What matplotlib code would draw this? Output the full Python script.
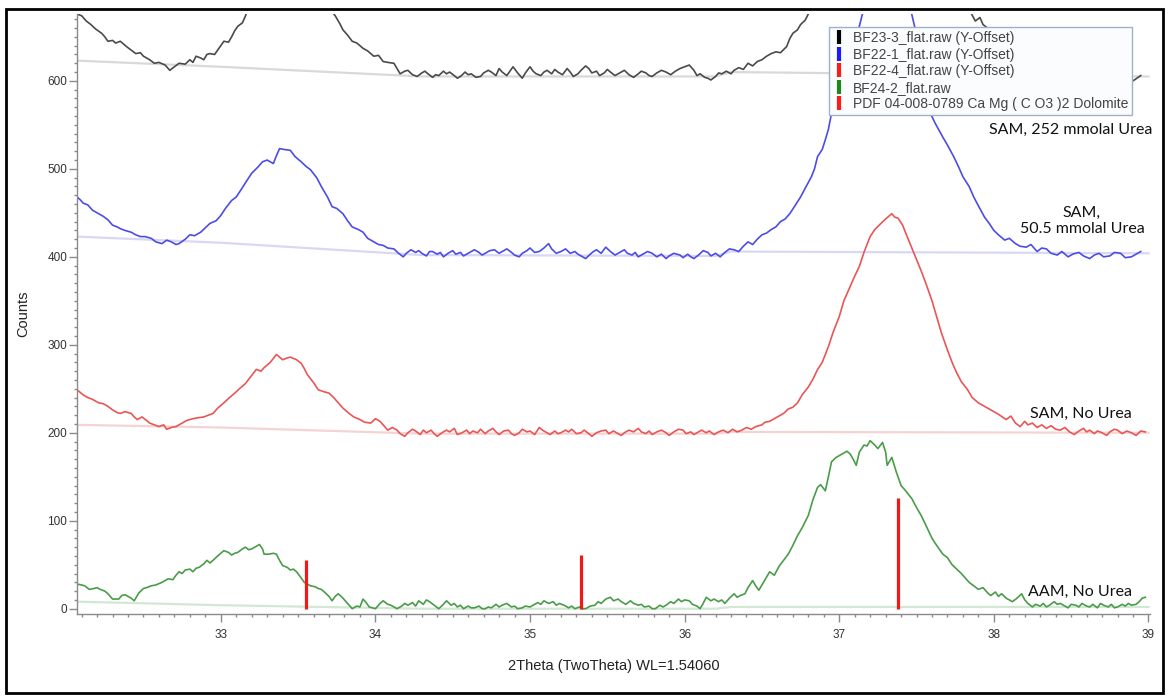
"""XRD overlay: four dolomite-precipitate patterns (Y-offset) with PDF 04-008-0789 stick lines."""
import matplotlib
matplotlib.use("Agg")
import matplotlib.pyplot as plt
from matplotlib.lines import Line2D
from matplotlib.patches import Rectangle
from matplotlib.ticker import MultipleLocator

# ---- data: (2theta [deg], counts incl. Y-offset) ----
GREEN_PTS = [
    (32.07, 28), (32.10, 27), (32.12, 26), (32.15, 22), (32.18, 23), (32.20, 24), (32.22, 22),
    (32.25, 20), (32.27, 17), (32.30, 11), (32.32, 11), (32.34, 11), (32.36, 15), (32.38, 16),
    (32.40, 14), (32.42, 12), (32.44, 9), (32.47, 18), (32.50, 23), (32.52, 24), (32.55, 26),
    (32.58, 27), (32.62, 30), (32.64, 32), (32.66, 34), (32.69, 33), (32.71, 38), (32.73, 42),
    (32.75, 40), (32.77, 44), (32.80, 45), (32.82, 42), (32.84, 46), (32.86, 47), (32.89, 51),
    (32.91, 55), (32.93, 52), (32.95, 55), (32.98, 60), (33.00, 63), (33.02, 66), (33.05, 64),
    (33.07, 61), (33.09, 63), (33.11, 64), (33.14, 68), (33.16, 70), (33.18, 67), (33.20, 68),
    (33.23, 71), (33.25, 73), (33.27, 68), (33.28, 62), (33.31, 62), (33.34, 63), (33.36, 62),
    (33.38, 55), (33.40, 49), (33.43, 47), (33.45, 44), (33.47, 45), (33.49, 42), (33.52, 35),
    (33.54, 30), (33.56, 28), (33.58, 26), (33.61, 25), (33.63, 23), (33.65, 22), (33.67, 19),
    (33.70, 14), (33.72, 9), (33.74, 14), (33.76, 17), (33.79, 12), (33.81, 8), (33.83, 4),
    (33.85, 0), (33.88, 3), (33.90, 2), (33.92, 11), (33.94, 7), (33.96, 2), (33.98, 1),
    (34.00, 0), (34.03, 6), (34.05, 9), (34.08, 5), (34.10, 4), (34.12, 2), (34.14, 0),
    (34.17, 3), (34.19, 6), (34.21, 4), (34.24, 7), (34.26, 3), (34.28, 9), (34.31, 5),
    (34.33, 10), (34.35, 8), (34.38, 4), (34.41, 0), (34.44, 5), (34.46, 9), (34.49, 4),
    (34.51, 6), (34.53, 2), (34.55, 4), (34.57, 0), (34.60, 3), (34.62, 1), (34.64, 1),
    (34.67, 3), (34.69, 0), (34.71, 0), (34.73, 2), (34.75, 1), (34.78, 5), (34.80, 2),
    (34.82, 4), (34.85, 6), (34.88, 2), (34.90, 3), (34.92, 0), (34.95, 1), (34.97, 3),
    (35.00, 2), (35.02, 4), (35.05, 7), (35.07, 5), (35.09, 9), (35.12, 6), (35.15, 8),
    (35.17, 4), (35.19, 6), (35.22, 4), (35.25, 1), (35.27, 3), (35.29, 0), (35.32, 2),
    (35.34, 0), (35.36, 0), (35.39, 3), (35.42, 4), (35.44, 8), (35.46, 6), (35.49, 11),
    (35.52, 13), (35.54, 9), (35.57, 11), (35.59, 8), (35.62, 5), (35.65, 9), (35.67, 6),
    (35.70, 4), (35.72, 5), (35.74, 2), (35.77, 3), (35.79, 0), (35.81, 0), (35.84, 4),
    (35.86, 2), (35.88, 4), (35.91, 8), (35.93, 6), (35.96, 11), (35.98, 8), (36.00, 10),
    (36.03, 9), (36.05, 5), (36.08, 3), (36.10, 0), (36.12, 6), (36.14, 13), (36.17, 9),
    (36.19, 11), (36.22, 8), (36.24, 10), (36.26, 6), (36.29, 12), (36.32, 17), (36.34, 13),
    (36.36, 15), (36.39, 17), (36.41, 24), (36.44, 32), (36.46, 26), (36.48, 21), (36.51, 30),
    (36.55, 42), (36.58, 38), (36.61, 48), (36.64, 55), (36.67, 62), (36.70, 72), (36.73, 83),
    (36.76, 92), (36.80, 106), (36.83, 124), (36.86, 138), (36.88, 141), (36.91, 134),
    (36.93, 150), (36.95, 167), (36.98, 172), (37.02, 176), (37.05, 179), (37.07, 176),
    (37.09, 170), (37.11, 163), (37.13, 178), (37.16, 186), (37.18, 185), (37.20, 191),
    (37.23, 186), (37.25, 182), (37.28, 189), (37.30, 178), (37.31, 163), (37.34, 172),
    (37.37, 155), (37.40, 140), (37.43, 134), (37.47, 125), (37.50, 115), (37.53, 106),
    (37.56, 95), (37.60, 80), (37.63, 72), (37.67, 62), (37.70, 58), (37.73, 50), (37.76, 45),
    (37.79, 40), (37.81, 36), (37.84, 30), (37.87, 26), (37.90, 22), (37.93, 24), (37.96, 18),
    (37.98, 15), (38.01, 19), (38.03, 14), (38.05, 17), (38.08, 12), (38.10, 10), (38.12, 8),
    (38.15, 12), (38.18, 17), (38.20, 10), (38.22, 6), (38.25, 2), (38.27, 5), (38.30, 3),
    (38.32, 6), (38.34, 2), (38.36, 4), (38.39, 8), (38.41, 5), (38.43, 6), (38.46, 3),
    (38.48, 1), (38.50, 5), (38.53, 4), (38.55, 2), (38.57, 6), (38.60, 3), (38.62, 2),
    (38.64, 5), (38.67, 1), (38.69, 6), (38.71, 4), (38.74, 2), (38.76, 5), (38.78, 1),
    (38.80, 2), (38.83, 5), (38.85, 3), (38.87, 6), (38.89, 4), (38.92, 5), (38.94, 8),
    (38.96, 12), (38.98, 13)]

RED_PTS = [
    (32.07, 249), (32.09, 246), (32.11, 243), (32.14, 240), (32.17, 238), (32.21, 234),
    (32.24, 233), (32.27, 230), (32.30, 226), (32.33, 223), (32.35, 222), (32.38, 224),
    (32.42, 222), (32.44, 218), (32.46, 215), (32.49, 218), (32.52, 214), (32.54, 211),
    (32.57, 209), (32.60, 207), (32.63, 209), (32.65, 204), (32.68, 206), (32.71, 207),
    (32.73, 209), (32.75, 211), (32.78, 214), (32.82, 216), (32.85, 217), (32.89, 218),
    (32.92, 220), (32.95, 222), (32.98, 228), (33.02, 234), (33.05, 239), (33.09, 245),
    (33.12, 250), (33.16, 256), (33.19, 263), (33.23, 272), (33.26, 270), (33.28, 274),
    (33.32, 280), (33.36, 289), (33.38, 286), (33.40, 283), (33.43, 285), (33.45, 286),
    (33.49, 283), (33.52, 279), (33.54, 273), (33.56, 266), (33.60, 257), (33.63, 249),
    (33.66, 247), (33.70, 245), (33.73, 240), (33.76, 234), (33.79, 228), (33.83, 222),
    (33.86, 218), (33.90, 215), (33.93, 212), (33.97, 211), (34.00, 216), (34.03, 213),
    (34.06, 207), (34.08, 203), (34.11, 206), (34.14, 203), (34.16, 199), (34.19, 196),
    (34.21, 200), (34.24, 204), (34.26, 202), (34.29, 198), (34.31, 203), (34.33, 200),
    (34.36, 203), (34.38, 199), (34.40, 196), (34.43, 200), (34.46, 203), (34.48, 201),
    (34.51, 205), (34.53, 198), (34.56, 200), (34.59, 203), (34.61, 199), (34.63, 202),
    (34.66, 200), (34.68, 204), (34.71, 199), (34.73, 202), (34.76, 205), (34.78, 201),
    (34.80, 198), (34.83, 202), (34.86, 203), (34.88, 199), (34.90, 197), (34.93, 200),
    (34.95, 204), (34.98, 201), (35.00, 202), (35.03, 198), (35.06, 206), (35.08, 203),
    (35.11, 200), (35.13, 198), (35.16, 202), (35.18, 199), (35.20, 200), (35.23, 203),
    (35.25, 201), (35.27, 204), (35.30, 199), (35.33, 200), (35.35, 203), (35.38, 199),
    (35.40, 196), (35.43, 200), (35.46, 202), (35.49, 203), (35.51, 199), (35.54, 202),
    (35.56, 200), (35.59, 197), (35.61, 200), (35.64, 203), (35.67, 201), (35.70, 205),
    (35.72, 201), (35.75, 199), (35.77, 202), (35.79, 198), (35.82, 201), (35.85, 203),
    (35.88, 200), (35.90, 197), (35.93, 201), (35.96, 204), (35.99, 203), (36.01, 199),
    (36.04, 201), (36.06, 198), (36.08, 200), (36.11, 203), (36.14, 200), (36.16, 202),
    (36.19, 198), (36.22, 201), (36.25, 203), (36.28, 200), (36.31, 204), (36.34, 201),
    (36.37, 203), (36.40, 206), (36.43, 204), (36.46, 207), (36.50, 209), (36.52, 212),
    (36.55, 213), (36.58, 216), (36.61, 219), (36.64, 222), (36.67, 227), (36.70, 229),
    (36.73, 234), (36.76, 243), (36.80, 252), (36.83, 261), (36.86, 272), (36.89, 280),
    (36.93, 298), (36.96, 314), (37.00, 332), (37.03, 350), (37.07, 366), (37.10, 378),
    (37.13, 389), (37.16, 405), (37.20, 423), (37.23, 431), (37.27, 438), (37.30, 443),
    (37.32, 446), (37.34, 449), (37.36, 445), (37.38, 444), (37.41, 436), (37.43, 427),
    (37.46, 414), (37.50, 397), (37.53, 384), (37.56, 370), (37.60, 350), (37.63, 332),
    (37.66, 314), (37.70, 294), (37.73, 280), (37.76, 268), (37.79, 258), (37.83, 249),
    (37.86, 240), (37.90, 234), (37.94, 230), (37.99, 225), (38.03, 221), (38.08, 215),
    (38.11, 219), (38.14, 211), (38.17, 207), (38.20, 213), (38.22, 209), (38.25, 211),
    (38.28, 206), (38.31, 209), (38.34, 205), (38.37, 208), (38.40, 204), (38.43, 203),
    (38.46, 206), (38.49, 201), (38.52, 198), (38.55, 202), (38.58, 205), (38.60, 201),
    (38.62, 203), (38.65, 199), (38.67, 202), (38.70, 200), (38.73, 197), (38.75, 201),
    (38.78, 204), (38.80, 203), (38.83, 199), (38.86, 202), (38.89, 200), (38.92, 197),
    (38.95, 202), (38.98, 201)]

BLUE_PTS = [
    (32.07, 468), (32.09, 465), (32.11, 461), (32.14, 459), (32.17, 453), (32.21, 449),
    (32.24, 446), (32.27, 442), (32.30, 436), (32.33, 434), (32.35, 432), (32.38, 430),
    (32.42, 428), (32.45, 425), (32.48, 423), (32.51, 423), (32.55, 421), (32.58, 417),
    (32.62, 415), (32.65, 419), (32.68, 417), (32.71, 414), (32.73, 415), (32.77, 420),
    (32.80, 425), (32.83, 424), (32.87, 428), (32.90, 433), (32.93, 438), (32.97, 441),
    (33.00, 447), (33.03, 455), (33.07, 464), (33.10, 468), (33.13, 476), (33.17, 487),
    (33.20, 495), (33.24, 502), (33.27, 508), (33.30, 510), (33.34, 506), (33.36, 515),
    (33.38, 523), (33.41, 522), (33.45, 521), (33.48, 514), (33.52, 508), (33.55, 503),
    (33.58, 499), (33.62, 490), (33.65, 480), (33.69, 468), (33.72, 457), (33.75, 455),
    (33.79, 449), (33.82, 441), (33.85, 434), (33.89, 431), (33.92, 428), (33.95, 421),
    (33.99, 417), (34.02, 414), (34.05, 413), (34.08, 410), (34.12, 409), (34.15, 404),
    (34.18, 400), (34.20, 404), (34.23, 408), (34.26, 405), (34.28, 407), (34.30, 404),
    (34.33, 401), (34.35, 406), (34.37, 406), (34.40, 403), (34.42, 405), (34.44, 400),
    (34.47, 404), (34.50, 407), (34.52, 403), (34.55, 405), (34.57, 401), (34.60, 404),
    (34.62, 406), (34.64, 408), (34.67, 405), (34.69, 402), (34.71, 404), (34.74, 407),
    (34.77, 408), (34.80, 404), (34.82, 406), (34.85, 409), (34.88, 405), (34.90, 402),
    (34.93, 400), (34.95, 404), (34.98, 407), (35.00, 410), (35.03, 405), (35.06, 406),
    (35.09, 410), (35.12, 415), (35.14, 409), (35.17, 404), (35.20, 406), (35.23, 409),
    (35.26, 404), (35.29, 406), (35.31, 403), (35.34, 400), (35.36, 398), (35.39, 403),
    (35.41, 406), (35.43, 408), (35.46, 404), (35.49, 411), (35.52, 406), (35.55, 402),
    (35.58, 405), (35.61, 408), (35.63, 404), (35.66, 402), (35.68, 405), (35.70, 400),
    (35.73, 403), (35.76, 406), (35.79, 404), (35.82, 400), (35.85, 403), (35.88, 398),
    (35.90, 401), (35.93, 404), (35.97, 402), (35.99, 399), (36.02, 403), (36.04, 400),
    (36.06, 398), (36.09, 402), (36.12, 407), (36.15, 405), (36.17, 401), (36.20, 404),
    (36.23, 400), (36.26, 405), (36.29, 409), (36.32, 408), (36.35, 406), (36.38, 412),
    (36.41, 417), (36.44, 414), (36.47, 420), (36.50, 425), (36.53, 427), (36.56, 431),
    (36.59, 434), (36.62, 440), (36.65, 443), (36.68, 449), (36.71, 457), (36.75, 468),
    (36.78, 478), (36.82, 491), (36.84, 500), (36.86, 514), (36.89, 522), (36.91, 533),
    (36.93, 545), (36.95, 563), (37.02, 610), (37.08, 640), (37.13, 662), (37.17, 690),
    (37.24, 740), (37.31, 770), (37.38, 745), (37.45, 690), (37.49, 660), (37.54, 610),
    (37.59, 563), (37.62, 552), (37.67, 536), (37.70, 527), (37.74, 514), (37.77, 503),
    (37.80, 491), (37.84, 480), (37.87, 468), (37.90, 458), (37.94, 445), (37.97, 438),
    (38.00, 430), (38.03, 425), (38.07, 419), (38.10, 421), (38.14, 415), (38.17, 412),
    (38.21, 411), (38.24, 414), (38.28, 406), (38.31, 410), (38.34, 409), (38.37, 404),
    (38.41, 402), (38.44, 406), (38.48, 400), (38.51, 403), (38.55, 405), (38.58, 401),
    (38.62, 398), (38.65, 402), (38.68, 404), (38.71, 400), (38.75, 401), (38.78, 405),
    (38.82, 404), (38.85, 399), (38.89, 400), (38.92, 403), (38.95, 406)]

BLACK_PTS = [
    (32.07, 676), (32.10, 674), (32.13, 668), (32.16, 664), (32.19, 659), (32.23, 654),
    (32.25, 650), (32.27, 645), (32.30, 646), (32.32, 643), (32.35, 645), (32.39, 639),
    (32.42, 635), (32.45, 631), (32.48, 632), (32.50, 628), (32.54, 624), (32.57, 620),
    (32.60, 621), (32.64, 618), (32.67, 612), (32.70, 616), (32.73, 620), (32.77, 619),
    (32.80, 624), (32.82, 621), (32.84, 628), (32.87, 626), (32.89, 624), (32.91, 630),
    (32.93, 631), (32.96, 630), (32.98, 635), (33.00, 640), (33.02, 645), (33.05, 644),
    (33.07, 650), (33.09, 657), (33.11, 662), (33.14, 666), (33.16, 674), (33.22, 705),
    (33.30, 740), (33.40, 760), (33.50, 745), (33.60, 710), (33.68, 688), (33.74, 674),
    (33.77, 665), (33.79, 658), (33.82, 652), (33.85, 645), (33.88, 643), (33.92, 637),
    (33.95, 634), (33.99, 628), (34.02, 629), (34.05, 622), (34.08, 621), (34.12, 620),
    (34.14, 614), (34.16, 608), (34.19, 611), (34.21, 612), (34.24, 607), (34.27, 605),
    (34.30, 609), (34.32, 611), (34.34, 608), (34.37, 604), (34.39, 607), (34.41, 606),
    (34.44, 611), (34.46, 608), (34.48, 610), (34.51, 606), (34.53, 603), (34.55, 605),
    (34.58, 610), (34.60, 607), (34.62, 608), (34.65, 604), (34.68, 605), (34.70, 609),
    (34.73, 612), (34.75, 610), (34.78, 606), (34.80, 614), (34.82, 610), (34.85, 606),
    (34.87, 611), (34.89, 616), (34.92, 609), (34.95, 603), (34.97, 609), (35.00, 616),
    (35.02, 611), (35.04, 608), (35.07, 606), (35.09, 610), (35.11, 612), (35.14, 608),
    (35.16, 613), (35.18, 610), (35.21, 607), (35.24, 614), (35.26, 610), (35.28, 605),
    (35.31, 608), (35.33, 612), (35.36, 617), (35.38, 614), (35.40, 609), (35.43, 611),
    (35.45, 606), (35.48, 609), (35.50, 613), (35.52, 610), (35.55, 606), (35.58, 609),
    (35.61, 612), (35.64, 607), (35.67, 604), (35.70, 608), (35.72, 611), (35.75, 609),
    (35.77, 606), (35.79, 605), (35.82, 609), (35.85, 612), (35.88, 610), (35.91, 607),
    (35.94, 611), (35.97, 614), (36.00, 616), (36.03, 618), (36.06, 612), (36.08, 606),
    (36.10, 608), (36.13, 604), (36.15, 603), (36.17, 601), (36.20, 605), (36.22, 609),
    (36.24, 608), (36.27, 611), (36.30, 608), (36.32, 612), (36.35, 615), (36.38, 613),
    (36.41, 620), (36.44, 617), (36.47, 622), (36.50, 624), (36.53, 628), (36.56, 631),
    (36.59, 633), (36.62, 632), (36.66, 639), (36.68, 648), (36.70, 654), (36.73, 658),
    (36.75, 664), (36.78, 669), (36.80, 676), (36.90, 720), (37.05, 790), (37.20, 830),
    (37.40, 790), (37.60, 730), (37.75, 690), (37.85, 678), (37.88, 668), (37.91, 672),
    (37.93, 664), (37.96, 660), (38.00, 650), (38.10, 635), (38.20, 622), (38.30, 614),
    (38.40, 610), (38.50, 607), (38.60, 605), (38.70, 606), (38.80, 604), (38.86, 609),
    (38.90, 600), (38.95, 606)]

# pale background curves under each pattern
TT_BG = [32.07, 33.0, 34.3, 36.2, 36.3, 39.0]
BG_BLACK = [623, 616, 605, 605, 610, 605]
BG_BLUE = [423, 416, 402, 401, 406, 404]
BG_RED = [209, 206, 199, 199, 201, 200]
BG_GREEN = [8, 4, 0, 0, 2, 2]

# PDF 04-008-0789 dolomite sticks
PDF_TT = [33.55, 35.33, 37.38]
PDF_I = [55, 61, 126]

LEGEND_LABELS = ["BF23-3_flat.raw (Y-Offset)", "BF22-1_flat.raw (Y-Offset)",
                 "BF22-4_flat.raw (Y-Offset)", "BF24-2_flat.raw",
                 "PDF 04-008-0789 Ca Mg ( C O3 )2 Dolomite"]
LEGEND_COLORS = ["#000000", "#1a1aff", "#ff1a1a", "#1a8a1a", "#ff1a1a"]

NOTES = [("SAM, 252 mmolal Urea", 38.50, 544),
         ("SAM,\n50.5 mmolal Urea", 38.57, 441),
         ("SAM, No Urea", 38.56, 222),
         ("AAM, No Urea", 38.56, 19)]

fig = plt.figure(figsize=(11.68, 6.96), dpi=100)
ax = fig.add_axes([77 / 1168, 1 - 614 / 696, (1150 - 77) / 1168, (614 - 14) / 696])

for bg, c in [(BG_BLACK, "#d9d9d9"), (BG_BLUE, "#d8d8f6"), (BG_RED, "#f6d3d3"), (BG_GREEN, "#d3e8d3")]:
    ax.plot(TT_BG, bg, color=c, lw=1.6, zorder=1)

for pts, c in [(BLACK_PTS, "#4a4a4a"), (BLUE_PTS, "#4c4ce6"), (RED_PTS, "#ea5555"),
               (GREEN_PTS, "#4a9c4a")]:
    tt, cnt = zip(*pts)
    ax.plot(tt, cnt, color=c, lw=1.2, zorder=2)
ax.vlines(PDF_TT, 0, PDF_I, color="#f01818", lw=2.3, zorder=3)

ax.set_xlim(32.07, 39.01)
ax.set_ylim(-6, 676)
ax.xaxis.set_major_locator(MultipleLocator(1))
ax.xaxis.set_minor_locator(MultipleLocator(0.1))
ax.yaxis.set_major_locator(MultipleLocator(100))
ax.yaxis.set_minor_locator(MultipleLocator(10))
for s in ["top", "right"]:
    ax.spines[s].set_visible(False)
for s in ["left", "bottom"]:
    ax.spines[s].set_color("#8a8a8a")
    ax.spines[s].set_linewidth(1.0)
ax.tick_params(which="major", length=6, width=1, color="#8a8a8a", labelsize=8.5,
               labelcolor="#333333", direction="out")
ax.tick_params(which="minor", length=2.5, width=1, color="#8a8a8a", direction="out")
ax.tick_params(axis="y", pad=1)
ax.tick_params(axis="x", pad=5)
for lab in ax.get_xticklabels() + ax.get_yticklabels():
    lab.set_family("Liberation Sans")

ax.set_xlabel("2Theta (TwoTheta) WL=1.54060", family="Liberation Sans", fontsize=10.5,
              color="#222222", labelpad=13)
ax.set_ylabel("Counts", family="Liberation Sans", fontsize=10.5, color="#222222", labelpad=12)

for txt, x, y in NOTES:
    ax.text(x, y, txt, family="Lato", fontsize=11.5, color="#111111", ha="center", va="center",
            multialignment="center", linespacing=1.2, clip_on=False, zorder=5)

handles = [Line2D([], [], marker="|", markersize=10, markeredgewidth=3, linestyle="None", color=c)
           for c in LEGEND_COLORS]
leg = fig.legend(handles, LEGEND_LABELS, loc="upper left", bbox_to_anchor=(829 / 1168, 1 - 27 / 696),
                 frameon=True, fancybox=False, framealpha=1.0, fontsize=10, handlelength=0.8,
                 handletextpad=0.6, labelspacing=0.18, borderpad=0.3, borderaxespad=0)
leg.get_frame().set_edgecolor("#9fb1c9")
leg.get_frame().set_facecolor("#fbfcfe")
leg.get_frame().set_linewidth(1.0)
leg.set_zorder(10)
for t in leg.get_texts():
    t.set_family("Liberation Sans")
    t.set_color("#444444")

# black frame round the whole picture
fig.patches.append(Rectangle((6 / 1168, 3 / 696), 1157 / 1168, 684 / 696, transform=fig.transFigure,
                             fill=False, edgecolor="black", lw=2))

fig.savefig("out.png", dpi=100)
